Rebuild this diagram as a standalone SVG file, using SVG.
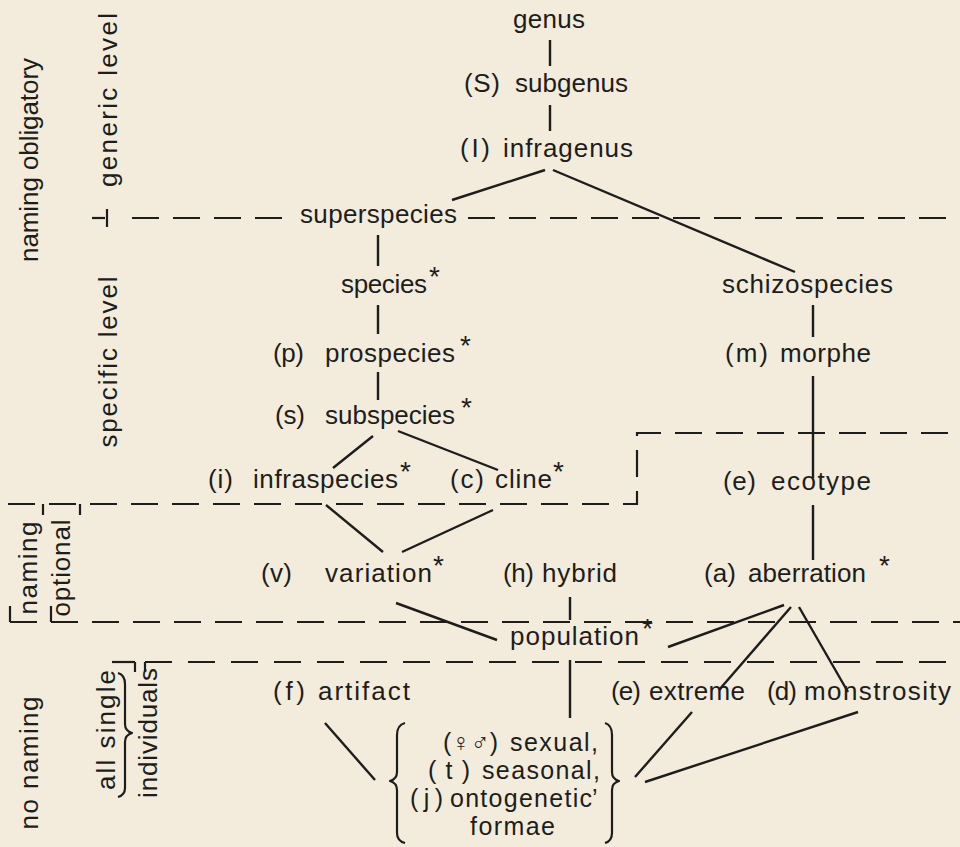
<svg xmlns="http://www.w3.org/2000/svg" width="960" height="847" viewBox="0 0 960 847">
  <style>
    text { font-family: "Liberation Sans", "DejaVu Sans", sans-serif; font-size: 26px; fill: #1d1d1b; }
    .side { font-size: 26px; }
    .form { font-size: 25px; }
    .ast { font-size: 28px; }
    .edge { stroke: #1d1d1b; stroke-width: 2.4; fill: none; }
    .dash { stroke: #1d1d1b; stroke-width: 2.2; fill: none; stroke-dasharray: 27 14; }
    .tick { stroke: #1d1d1b; stroke-width: 2.2; fill: none; }
    .brace { stroke: #1d1d1b; stroke-width: 2.2; fill: none; stroke-linejoin: round; }
  </style>
  <rect width="960" height="847" fill="#f3ecdc"/>

  <!-- level divisions -->
  <g id="dividers">
    <line class="tick" x1="92" y1="218" x2="105" y2="218"/>
    <line class="tick" x1="107" y1="209" x2="107" y2="227"/>
    <line class="dash" x1="132" y1="218" x2="292" y2="218"/>
    <line class="dash" x1="468" y1="218" x2="960" y2="218"/>

    <path class="dash" d="M8 504 H637 V433 H960"/>
    <line class="tick" x1="43" y1="504" x2="43" y2="515"/>
    <line class="tick" x1="80" y1="504" x2="80" y2="515"/>

    <line class="dash" x1="10" y1="622" x2="960" y2="622"/>
    <line class="tick" x1="10" y1="606" x2="10" y2="622"/>
    <line class="tick" x1="51" y1="606" x2="51" y2="622"/>

    <line class="tick" x1="112" y1="662" x2="135" y2="662"/>
    <line class="tick" x1="135" y1="662" x2="135" y2="672"/>
    <line class="tick" x1="145" y1="662" x2="145" y2="672"/>
    <path class="dash" d="M145 662 H960" style="stroke-dasharray: 27 16"/>
  </g>

  <!-- side labels -->
  <g id="side-labels">
    <text class="side" transform="translate(38 160) rotate(-90)" text-anchor="middle" textLength="204" lengthAdjust="spacing">naming obligatory</text>
    <text class="side" transform="translate(117 100) rotate(-90)" text-anchor="middle" textLength="174" lengthAdjust="spacing">generic level</text>
    <text class="side" transform="translate(117 362) rotate(-90)" text-anchor="middle" textLength="171" lengthAdjust="spacing">specific level</text>
    <text class="side" transform="translate(37 568) rotate(-90)" text-anchor="middle" textLength="93" lengthAdjust="spacing">naming</text>
    <text class="side" transform="translate(70 568) rotate(-90)" text-anchor="middle" textLength="97" lengthAdjust="spacing">optional</text>
    <text class="side" transform="translate(38 763) rotate(-90)" text-anchor="middle" textLength="133" lengthAdjust="spacing">no naming</text>
    <text class="side" transform="translate(115 730) rotate(-90)" text-anchor="middle" textLength="120" lengthAdjust="spacing">all single</text>
    <text class="side" transform="translate(157 733) rotate(-90)" text-anchor="middle" textLength="130" lengthAdjust="spacing">individuals</text>
    <path class="brace" d="M118 673 Q125 675 125 684 V724 Q125 731 132 733 Q125 735 125 742 V788 Q125 795 118 797"/>
  </g>

  <!-- connectors -->
  <g id="connectors">
    <line class="edge" x1="550" y1="40" x2="550" y2="66"/>
    <line class="edge" x1="550" y1="105" x2="550" y2="131"/>
    <line class="edge" x1="545" y1="170" x2="452" y2="200"/>
    <line class="edge" x1="553" y1="170" x2="795" y2="272"/>
    <line class="edge" x1="378" y1="235" x2="378" y2="266"/>
    <line class="edge" x1="378" y1="305" x2="378" y2="334"/>
    <line class="edge" x1="378" y1="372" x2="378" y2="400"/>
    <line class="edge" x1="813" y1="305" x2="813" y2="337"/>
    <line class="edge" x1="813" y1="376" x2="813" y2="478"/>
    <line class="edge" x1="373" y1="436" x2="333" y2="468"/>
    <line class="edge" x1="398" y1="431" x2="498" y2="470"/>
    <line class="edge" x1="326" y1="505" x2="383" y2="552"/>
    <line class="edge" x1="493" y1="510" x2="402" y2="552"/>
    <line class="edge" x1="813" y1="505" x2="813" y2="560"/>
    <line class="edge" x1="570" y1="597" x2="570" y2="620"/>
    <line class="edge" x1="396" y1="603" x2="497" y2="640"/>
    <line class="edge" x1="784" y1="605" x2="668" y2="647"/>
    <line class="edge" x1="791" y1="607" x2="719" y2="690"/>
    <line class="edge" x1="799" y1="607" x2="848" y2="692"/>
    <line class="edge" x1="570" y1="660" x2="570" y2="718"/>
    <line class="edge" x1="325" y1="723" x2="375" y2="780"/>
    <line class="edge" x1="692" y1="712" x2="635" y2="777"/>
    <line class="edge" x1="858" y1="712" x2="645" y2="782"/>
  </g>

  <!-- nodes -->
  <g id="genus"><text x="513" y="28" textLength="72" lengthAdjust="spacing">genus</text></g>
  <g id="subgenus"><text y="92"><tspan x="464" textLength="36">(S)</tspan> <tspan x="515" textLength="113">subgenus</tspan></text></g>
  <g id="infragenus"><text y="157"><tspan x="460" textLength="30">(I)</tspan> <tspan x="503" textLength="130">infragenus</tspan></text></g>
  <g id="superspecies"><text x="300" y="223" textLength="157" lengthAdjust="spacing">superspecies</text></g>
  <g id="species"><text y="293"><tspan x="341" textLength="86">species</tspan><tspan class="ast" x="429" y="286">*</tspan></text></g>
  <g id="schizospecies"><text x="722" y="293" textLength="171" lengthAdjust="spacing">schizospecies</text></g>
  <g id="prospecies"><text y="362"><tspan x="273" textLength="31">(p)</tspan> <tspan x="325" textLength="130">prospecies</tspan><tspan class="ast" x="460" y="355">*</tspan></text></g>
  <g id="morphe"><text y="362"><tspan x="725" textLength="43">(m)</tspan> <tspan x="780" textLength="91">morphe</tspan></text></g>
  <g id="subspecies"><text y="424"><tspan x="275" textLength="30">(s)</tspan> <tspan x="325" textLength="130">subspecies</tspan><tspan class="ast" x="461" y="417">*</tspan></text></g>
  <g id="infraspecies"><text y="488"><tspan x="208" textLength="25">(i)</tspan> <tspan x="253" textLength="145">infraspecies</tspan><tspan class="ast" x="400" y="481">*</tspan></text></g>
  <g id="cline"><text y="488"><tspan x="450" textLength="34">(c)</tspan> <tspan x="495" textLength="57">cline</tspan><tspan class="ast" x="553" y="481">*</tspan></text></g>
  <g id="ecotype"><text y="490"><tspan x="723" textLength="33">(e)</tspan> <tspan x="771" textLength="100">ecotype</tspan></text></g>
  <g id="variation"><text y="582"><tspan x="261" textLength="31">(v)</tspan> <tspan x="325" textLength="107">variation</tspan><tspan class="ast" x="433" y="575">*</tspan></text></g>
  <g id="hybrid"><text y="582"><tspan x="503" textLength="31">(h)</tspan> <tspan x="542" textLength="75">hybrid</tspan></text></g>
  <g id="aberration"><text y="582"><tspan x="704" textLength="32">(a)</tspan> <tspan x="748" textLength="118">aberration</tspan><tspan class="ast" x="879" y="575">*</tspan></text></g>
  <g id="population"><text y="645"><tspan x="510" textLength="129">population</tspan><tspan class="ast" x="642" y="638">*</tspan></text></g>
  <g id="artifact"><text y="700"><tspan x="273" textLength="32">(f)</tspan> <tspan x="318" textLength="92">artifact</tspan></text></g>
  <g id="extreme"><text y="700"><tspan x="611" textLength="30">(e)</tspan> <tspan x="649" textLength="96">extreme</tspan></text></g>
  <g id="monstrosity"><text y="700"><tspan x="767" textLength="30">(d)</tspan> <tspan x="804" textLength="147">monstrosity</tspan></text></g>
  <g id="formae">
    <path class="brace" d="M405 723 Q397 725 397 735 V772 Q397 779 390 781 Q397 783 397 790 V833 Q397 841 405 843"/>
    <path class="brace" d="M605 723 Q612 725 612 735 V772 Q612 779 619 781 Q612 783 612 790 V833 Q612 841 605 843"/>
    <text class="form" y="751"><tspan x="443" textLength="55">(♀♂)</tspan> <tspan x="510" textLength="88">sexual,</tspan></text>
    <text class="form" y="779"><tspan x="428" textLength="42">(t)</tspan> <tspan x="482" textLength="118">seasonal,</tspan></text>
    <text class="form" y="807"><tspan x="410" textLength="33">(j)</tspan> <tspan x="450" textLength="142">ontogenetic</tspan><tspan x="592">’</tspan></text>
    <text class="form" x="470" y="835" textLength="85" lengthAdjust="spacing">formae</text>
  </g>
</svg>
